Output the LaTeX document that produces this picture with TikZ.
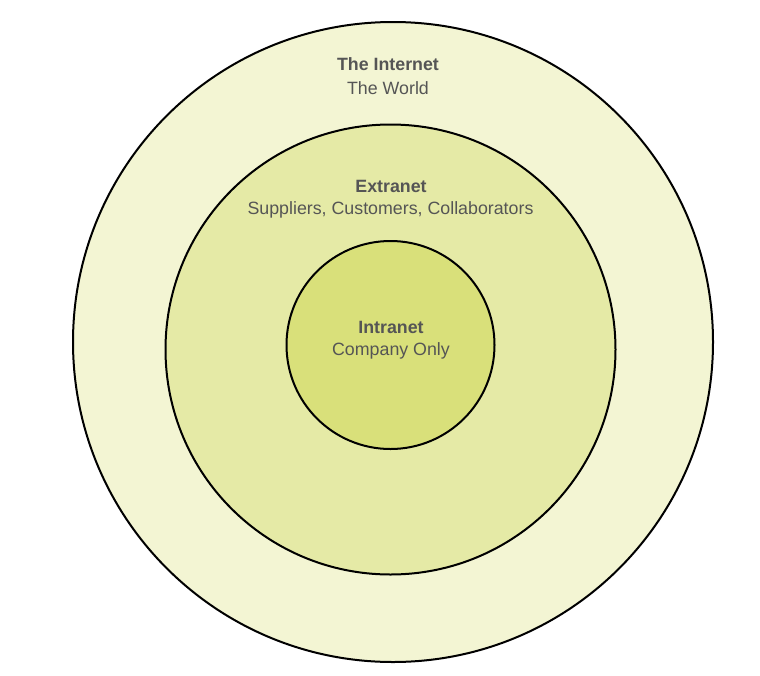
\documentclass[tikz,border=0pt]{standalone}
\usepackage{fontspec}
\setmainfont{Liberation Sans}
\definecolor{outerfill}{HTML}{F3F5D3}
\definecolor{midfill}{HTML}{E5EAA6}
\definecolor{innerfill}{HTML}{D9E07A}
\definecolor{txt}{HTML}{555555}
\begin{document}
\begin{tikzpicture}[x=1pt,y=-1pt,
  ring/.style={circle,draw=black,line width=2pt,inner sep=0pt},
  title/.style={text=txt,font=\fontsize{17.8}{20}\selectfont\bfseries,inner sep=0pt,anchor=center},
  sub/.style={text=txt,font=\fontsize{17.8}{20}\selectfont,inner sep=0pt,anchor=center}]
\useasboundingbox (0,0) rectangle (760,675);
\node[ring,fill=outerfill,minimum size=640pt] (outer) at (393,342) {};
\node[ring,fill=midfill,minimum size=450pt] (mid) at (390.5,349.5) {};
\node[ring,fill=innerfill,minimum size=208pt] (inner) at (390.5,345) {};
\node[title] (t1) at (388,64) {The Internet};
\node[sub] (s1) at (388,88) {The World};
\node[title] (t2) at (391,186) {Extranet};
\node[sub] (s2) at (390.5,210) {Suppliers, Customers, Collaborators};
\node[title] (t3) at (391,327) {Intranet};
\node[sub] (s3) at (391,351) {Company Only};
\end{tikzpicture}
\end{document}
